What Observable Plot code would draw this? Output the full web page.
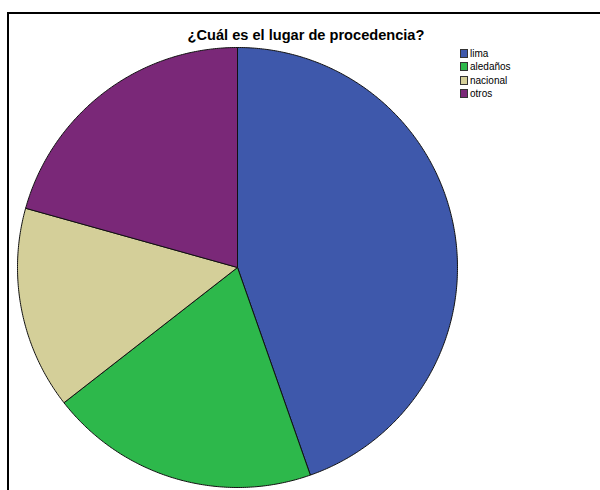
<!DOCTYPE html>
<html><head><meta charset="utf-8">
<script src="https://cdn.jsdelivr.net/npm/d3@7"></script>
<script src="https://cdn.jsdelivr.net/npm/@observablehq/plot@0.6"></script>
<style>
body{margin:0;background:#fff;font-family:Arial,"Liberation Sans",sans-serif;}
#wrap{position:relative;width:600px;height:490px;overflow:hidden;background:#fff}
#frame{position:absolute;left:7px;top:12px;width:700px;height:700px;border:2px solid #000;box-sizing:border-box;pointer-events:none}
#chart{position:absolute;left:0;top:0}
#title{position:absolute;left:0;width:612px;text-align:center;top:27px;font-weight:bold;font-size:14.6px;color:#000}
#legend{position:absolute;left:460px;top:47px;font-size:10px;color:#000}
.row{display:flex;align-items:center;height:13.3px}
.sw{width:6px;height:7px;border:1px solid #333;margin-right:2px}
</style></head>
<body>
<div id="wrap">
  <div id="frame"></div>
  <div id="chart"></div>
  <div id="title"></div>
  <div id="legend"></div>
</div>
<script>
const title = "¿Cuál es el lugar de procedencia?";
const categories = ["lima", "aledaños", "nacional", "otros"];
const counts = [54, 24, 18, 25];
const colors = ["#3e58ab", "#2db84b", "#d4cf99", "#7a2878"];

document.getElementById("title").textContent = title;

// slice geometry from d3.pie (clockwise from 12 o'clock)
const arcs = d3.pie().sort(null).value((d, i) => counts[i])(categories);
const pts = [];
arcs.forEach((a, i) => {
  const name = categories[i];
  pts.push({name, x: 0, y: 0});
  const n = Math.max(2, Math.ceil((a.endAngle - a.startAngle) / (Math.PI / 360)));
  for (let k = 0; k <= n; k++) {
    const t = a.startAngle + (a.endAngle - a.startAngle) * k / n;
    pts.push({name, x: Math.sin(t), y: Math.cos(t)});
  }
  pts.push({name, x: 0, y: 0});
});

const cx = 237, cy = 267, r = 220;
const chart = Plot.plot({
  width: 600,
  height: 490,
  marginLeft: cx - r,
  marginRight: 600 - (cx + r),
  marginTop: cy - r,
  marginBottom: 490 - (cy + r),
  x: {domain: [-1, 1], axis: null},
  y: {domain: [-1, 1], axis: null},
  color: {domain: categories, range: colors},
  style: {background: "transparent"},
  marks: [
    Plot.line(pts, {x: "x", y: "y", z: "name", fill: "name", stroke: "#111", strokeWidth: 1, strokeLinejoin: "round"})
  ]
});
document.getElementById("chart").appendChild(chart);

const legend = document.getElementById("legend");
categories.forEach((c, i) => {
  const row = document.createElement("div");
  row.className = "row";
  const sw = document.createElement("div");
  sw.className = "sw";
  sw.style.background = colors[i];
  const t = document.createElement("span");
  t.textContent = c;
  row.appendChild(sw); row.appendChild(t);
  legend.appendChild(row);
});
</script>
</body></html>
